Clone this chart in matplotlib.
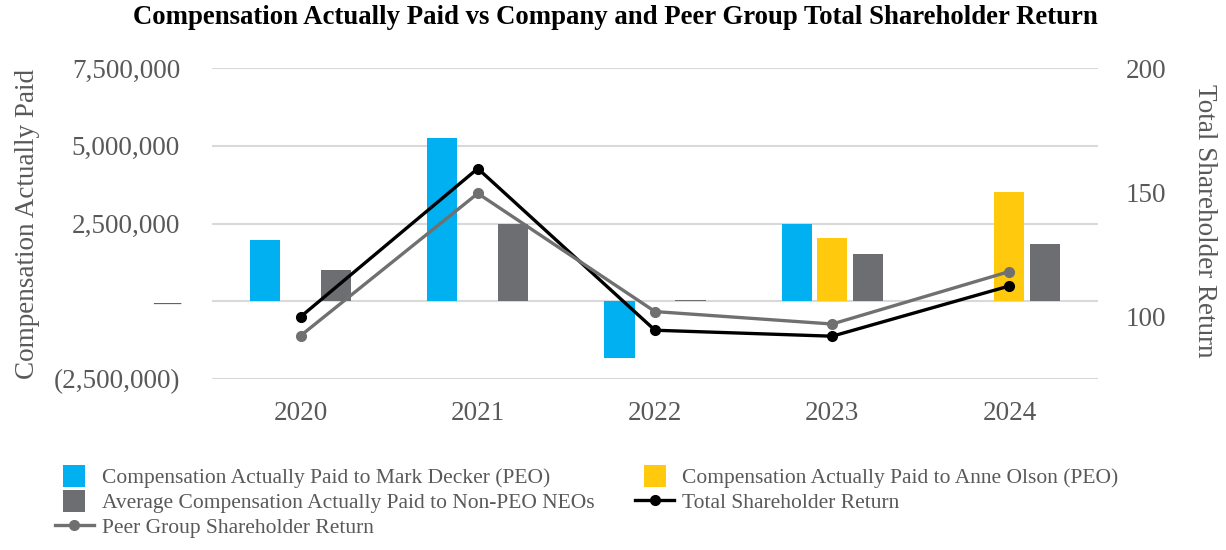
import numpy as np
import matplotlib.pyplot as plt
from matplotlib.ticker import FuncFormatter, FixedLocator
from matplotlib.legend_handler import HandlerPatch, update_from_first_child
from matplotlib.patches import Rectangle
from matplotlib.container import BarContainer

plt.rcParams['font.family'] = ['Liberation Serif', 'DejaVu Serif']

# data
years = ['2020', '2021', '2022', '2023', '2024']
cap_decker = [1.98e6, 5.26e6, -1.81e6, 2.49e6, np.nan]
cap_olson = [np.nan, np.nan, np.nan, 2.04e6, 3.52e6]
cap_non_peo = [1.01e6, 2.49e6, 0.05e6, 1.53e6, 1.85e6]
tsr = [100.0, 159.6, 94.6, 92.2, 112.4]
peer_tsr = [92.4, 149.6, 102.1, 97.1, 118.2]

c_decker = '#00b0f0'
c_olson = '#ffc90e'
c_non_peo = '#6d6e71'
c_peer = '#707070'
c_text = '#595959'

fig = plt.figure(figsize=(12.26, 5.5), dpi=100)
ax = fig.add_axes([212 / 1226, 1 - 379 / 550, (1098 - 212) / 1226, (379 - 68) / 550])
ax2 = ax.twinx()

x = np.arange(len(years))
w = 0.17
off = 0.2
b1 = ax.bar(x - off, cap_decker, w, color=c_decker, zorder=2,
            label='Compensation Actually Paid to Mark Decker (PEO)')
b2 = ax.bar(x, cap_olson, w, color=c_olson, zorder=2,
            label='Compensation Actually Paid to Anne Olson (PEO)')
b3 = ax.bar(x + off, cap_non_peo, w, color=c_non_peo, zorder=2,
            label='Average Compensation Actually Paid to Non-PEO NEOs')

l1, = ax2.plot(x, tsr, color='black', lw=2.4, marker='o', ms=7,
               label='Total Shareholder Return')
l2, = ax2.plot(x, peer_tsr, color=c_peer, lw=2.4, marker='o', ms=7,
               label='Peer Group Shareholder Return')

ax.set_xlim(-0.5, 4.5)
ax.set_ylim(-2.5e6, 7.5e6)
ax.yaxis.set_major_locator(FixedLocator([-2.5e6, 0, 2.5e6, 5e6, 7.5e6]))


def fmt(v, pos):
    if abs(v) < 1:
        return '\u2014'
    if v < 0:
        return '({:,.0f})'.format(-v)
    return '{:,.0f}'.format(v)


ax.yaxis.set_major_formatter(FuncFormatter(fmt))
ax.grid(axis='y', color='#d9d9d9', lw=1.5, zorder=0)
ax.set_axisbelow(True)
ax.set_xticks(x)
ax.set_xticklabels(years)

ax2.set_ylim(75, 200)
ax2.set_yticks([100, 150, 200])

for a in (ax, ax2):
    for s in a.spines.values():
        s.set_visible(False)
    a.tick_params(length=0, labelsize=19.5, colors=c_text)
ax.tick_params(axis='y', pad=23)
ax.tick_params(axis='x', pad=16)
ax2.tick_params(axis='y', pad=20)

fig.text(28 / 1226, 1 - 224 / 550, 'Compensation Actually Paid', rotation=90,
         fontsize=19.5, color=c_text, ha='center', va='center')
fig.text(1204 / 1226, 1 - 221 / 550, 'Total Shareholder Return', rotation=270,
         fontsize=19.5, color=c_text, ha='center', va='center')
fig.text(0.502, 1 - 17 / 550,
         'Compensation Actually Paid vs Company and Peer Group Total Shareholder Return',
         fontsize=19.3, fontweight='bold', ha='center', va='center', color='black')


# small square legend patches centred in the handle box
def square(legend, orig_handle, xdescent, ydescent, width, height, fontsize):
    s = 22 * 72 / 100
    return Rectangle((width / 2 - s / 2 - xdescent, height / 2 - s / 2 - ydescent), s, s)


handles = [b1, b3, l2, b2, l1]
leg = fig.legend(handles=handles, labels=[h.get_label() for h in handles],
                 ncol=2, loc='upper left', bbox_to_anchor=(55 / 1226, 1 - 466 / 550),
                 frameon=False, fontsize=15.5, labelcolor=c_text,
                 handlelength=1.81, handleheight=1.0, handletextpad=0.37,
                 labelspacing=0.15, columnspacing=1.9, borderpad=0, borderaxespad=0,
                 handler_map={BarContainer: HandlerPatch(patch_func=square,
                                                         update_func=update_from_first_child)})

fig.savefig('out.png', dpi=100)
